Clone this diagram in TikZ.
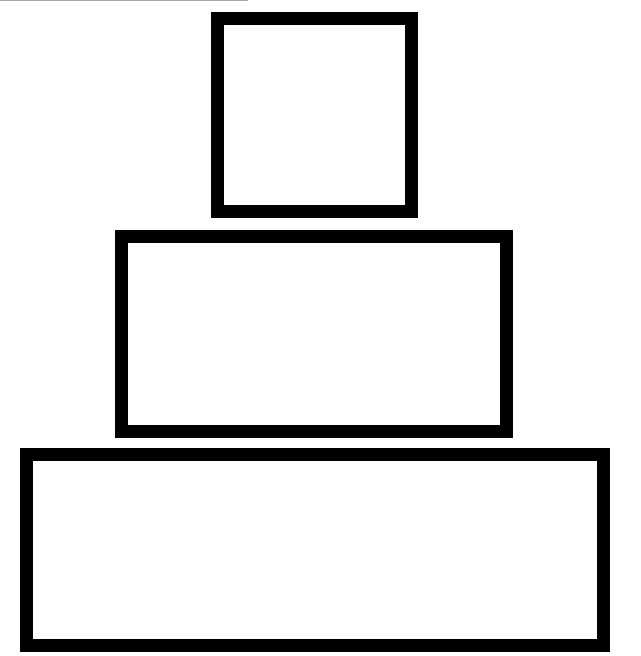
\documentclass[tikz,border=0pt]{standalone}
\begin{document}
\begin{tikzpicture}[x=1pt,y=-1pt,
  blockbox/.style={draw=black,line width=13pt,inner sep=0pt,outer sep=0pt,fill=none}]
\useasboundingbox (0,0) rectangle (640,656);
\draw[gray!70,line width=1.2pt] (0,0.6) -- (248,0.6);
\node[blockbox,minimum width=194pt,minimum height=193pt] (top) at (314,115) {};
\node[blockbox,minimum width=385pt,minimum height=195pt] (mid) at (314,334) {};
\node[blockbox,minimum width=577pt,minimum height=191pt] (bot) at (315,550) {};
\end{tikzpicture}
\end{document}
